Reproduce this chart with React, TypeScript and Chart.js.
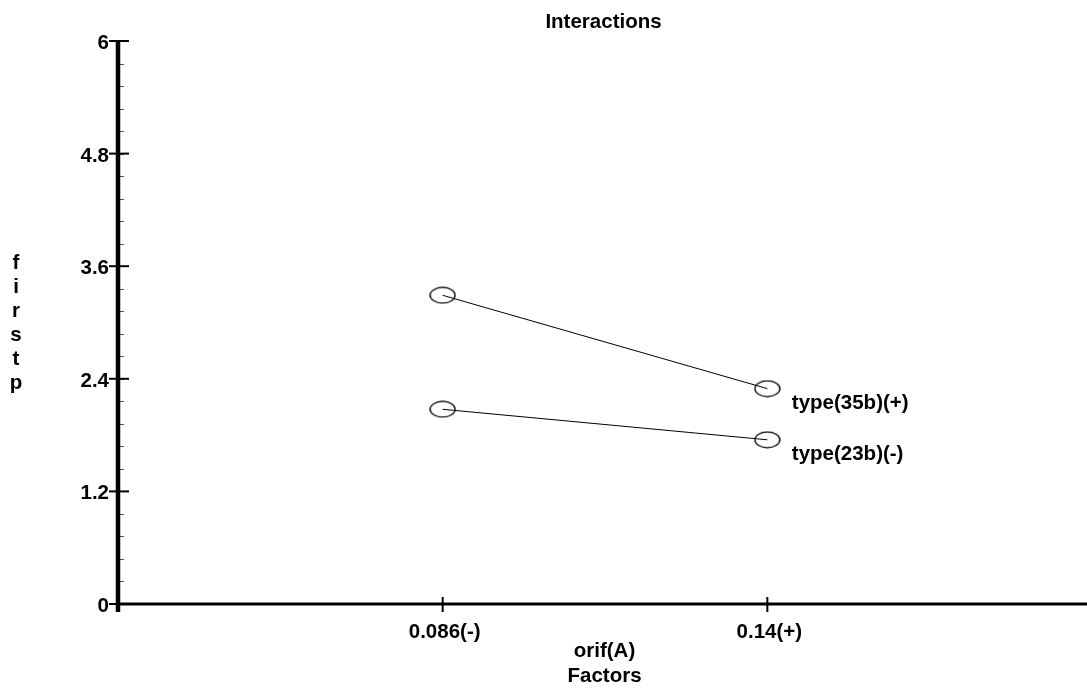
import React, { useEffect, useRef } from "react";
import { Chart, registerables } from "chart.js";

Chart.register(...registerables);

const categories = ["0.086(-)", "0.14(+)"];
const seriesNames = ["type(35b)(+)", "type(23b)(-)"];
const series35b = [3.29, 2.295];
const series23b = [2.075, 1.75];
const yTickValues = [0, 1.2, 2.4, 3.6, 4.8, 6];
const yMinorStep = 0.24;
const chartTitle = "Interactions";
const xTitleLines = ["orif(A)", "Factors"];
const yTitle = "firstp";

const FONT = 'bold 20.5px "Liberation Sans", Arial, sans-serif';

function makeEllipse(): HTMLCanvasElement {
  const c = document.createElement("canvas");
  c.width = 27;
  c.height = 18;
  const ctx = c.getContext("2d")!;
  ctx.strokeStyle = "#000";
  ctx.lineWidth = 1.3;
  ctx.beginPath();
  ctx.ellipse(13.5, 9, 12.5, 7.8, 0, 0, Math.PI * 2);
  ctx.stroke();
  return c;
}

export default function App() {
  const ref = useRef<HTMLCanvasElement>(null);

  useEffect(() => {
    if (!ref.current) return;
    const marker = makeEllipse();

    const axesPlugin = {
      id: "customAxes",
      beforeDatasetsDraw(chart: any) {
        const ctx = chart.ctx as CanvasRenderingContext2D;
        const xs = chart.scales.x;
        const ys = chart.scales.y;
        const x0 = xs.getPixelForValue(0);
        const y0 = ys.getPixelForValue(0);
        const yTop = ys.getPixelForValue(6);
        ctx.save();
        // minor y ticks
        ctx.lineWidth = 1;
        ctx.strokeStyle = "#555";
        for (let i = 0; i <= Math.round(6 / yMinorStep); i++) {
          const py = Math.round(ys.getPixelForValue(i * yMinorStep)) + 0.5;
          ctx.beginPath();
          ctx.moveTo(x0, py);
          ctx.lineTo(x0 + 6, py);
          ctx.stroke();
        }
        ctx.strokeStyle = "#000";
        // y axis line
        ctx.lineWidth = 4.5;
        ctx.beginPath();
        ctx.moveTo(x0, yTop - 1);
        ctx.lineTo(x0, y0 + 8);
        ctx.stroke();
        // x axis line
        ctx.lineWidth = 3;
        ctx.beginPath();
        ctx.moveTo(x0, y0);
        ctx.lineTo(xs.right, y0);
        ctx.stroke();
        // major y ticks and labels
        ctx.font = FONT;
        ctx.fillStyle = "#000";
        ctx.textAlign = "right";
        ctx.textBaseline = "alphabetic";
        for (const v of yTickValues) {
          const py = ys.getPixelForValue(v);
          ctx.lineWidth = 2;
          ctx.beginPath();
          ctx.moveTo(x0 - 9, py);
          ctx.lineTo(x0 + 11, py);
          ctx.stroke();
          ctx.fillText(String(v), x0 - 9, py + 8);
        }
        // x ticks and labels
        ctx.textAlign = "center";
        categories.forEach((c, i) => {
          const px = xs.getPixelForValue(i + 1);
          ctx.lineWidth = 2;
          ctx.beginPath();
          ctx.moveTo(px, y0 - 7);
          ctx.lineTo(px, y0 + 8);
          ctx.stroke();
          ctx.fillText(c, px + 2, y0 + 34);
        });
        // x title
        const cx = (xs.left + 1087) / 2;
        ctx.fillText(xTitleLines[0], cx + 2, y0 + 53);
        ctx.fillText(xTitleLines[1], cx + 2, y0 + 78);
        // chart title
        ctx.fillText(chartTitle, cx + 1, 27.5);
        // y title stacked
        yTitle.split("").forEach((ch, i) => {
          ctx.fillText(ch, 16, 269 + i * 24);
        });
        ctx.restore();
      },
      afterDatasetsDraw(chart: any) {
        const ctx = chart.ctx as CanvasRenderingContext2D;
        ctx.save();
        ctx.font = FONT;
        ctx.fillStyle = "#000";
        ctx.textAlign = "left";
        ctx.textBaseline = "alphabetic";
        chart.data.datasets.forEach((ds: any, i: number) => {
          const meta = chart.getDatasetMeta(i);
          const last = meta.data[meta.data.length - 1];
          ctx.fillText(ds.label, last.x + 24.5, last.y + 20.5);
        });
        ctx.restore();
      },
    };

    const toPoints = (vals: number[]) => vals.map((v, i) => ({ x: i + 1, y: v }));

    const chart = new Chart(ref.current, {
      type: "line",
      data: {
        datasets: [
          {
            label: seriesNames[0],
            data: toPoints(series35b),
            borderColor: "#000",
            borderWidth: 1,
            pointStyle: marker as any,
            pointRadius: 9,
            fill: false,
            tension: 0,
          },
          {
            label: seriesNames[1],
            data: toPoints(series23b),
            borderColor: "#000",
            borderWidth: 1,
            pointStyle: marker as any,
            pointRadius: 9,
            fill: false,
            tension: 0,
          },
        ],
      },
      options: {
        animation: false,
        responsive: false,
        devicePixelRatio: 1,
        layout: { autoPadding: false, padding: { left: 118, top: 41, right: 0, bottom: 88 } },
        scales: {
          x: { type: "linear", min: 0, max: 3, display: false },
          y: { type: "linear", min: 0, max: 6, display: false },
        },
        plugins: {
          legend: { display: false },
          tooltip: { enabled: false },
          title: { display: false },
        },
      },
      plugins: [axesPlugin],
    });
    return () => chart.destroy();
  }, []);

  return (
    <div
      style={{
        position: "absolute",
        left: 0,
        top: 0,
        width: 1087,
        height: 692,
        overflow: "hidden",
        background: "#fff",
      }}
    >
      <canvas ref={ref} width={1092} height={692} style={{ display: "block" }} />
    </div>
  );
}
